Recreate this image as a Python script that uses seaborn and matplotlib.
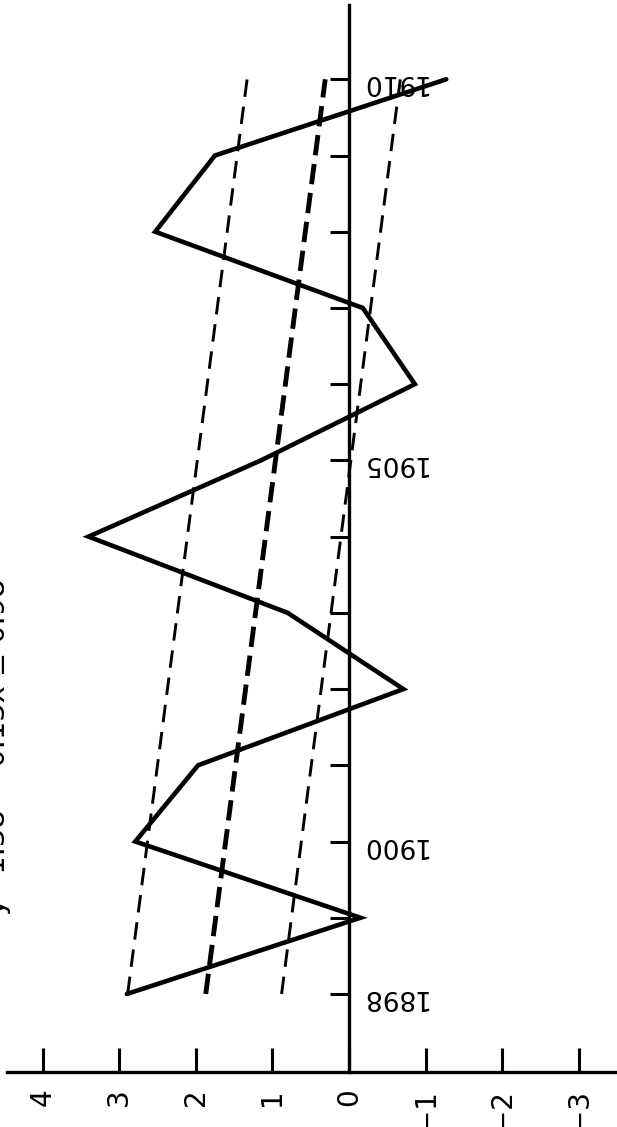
import matplotlib
matplotlib.use("Agg")
import matplotlib.pyplot as plt
import seaborn as sns
import pandas as pd

# ---- data ----
years = [1898, 1899, 1900, 1901, 1902, 1903, 1904, 1905, 1906, 1907, 1908, 1909, 1910]
values = [2.90, -0.15, 2.79, 1.97, -0.71, 0.80, 3.40, 1.15, -0.86, -0.18, 2.53, 1.75, -1.27]

trend_years = [1898, 1910]
upper_band = [2.89, 1.33]
trend_center = [1.87, 0.31]
lower_band = [0.88, -0.67]

value_ticks = [4, 3, 2, 1, 0, -1, -2, -3]
value_tick_labels = ["4", "3", "2", "1", "0", "−1", "−2", "−3"]
year_ticks = list(range(1898, 1911))
labelled_years = {1898: "1898", 1900: "1900", 1905: "1905", 1910: "1910"}
equation = "y=1.38 − 0.13x ± 0.98"

# ---- style ----
sns.set_style("white")
plt.rcParams["font.family"] = ["DejaVu Sans"]

W, H = 617, 1127
fig = plt.figure(figsize=(W / 100, H / 100), dpi=100)
ax = fig.add_axes([0, 0, 1, 1])
ax.set_facecolor("white")

# main series (rotated chart: years run vertically)
main = pd.DataFrame({"year": years, "value": values})
sns.lineplot(data=main, x="value", y="year", orient="y", sort=False,
             estimator=None, color="black", linewidth=3.3, ax=ax,
             solid_joinstyle="miter")

# trend band (dashed)
sns.lineplot(x=upper_band, y=trend_years, orient="y", sort=False, estimator=None,
             color="black", linewidth=2.1, linestyle=(0, (6.0, 3.4)), ax=ax)
sns.lineplot(x=trend_center, y=trend_years, orient="y", sort=False, estimator=None,
             color="black", linewidth=3.5, linestyle=(0, (4.2, 1.8)), ax=ax)
sns.lineplot(x=lower_band, y=trend_years, orient="y", sort=False, estimator=None,
             color="black", linewidth=2.1, linestyle=(0, (6.0, 3.4)), ax=ax)

# limits (value axis inverted: 4 on the left)
x_left, x_right = 4.556, -3.499
y_bottom, y_top = 1896.255, 1911.04
ax.set_xlim(x_left, x_right)
ax.set_ylim(y_bottom, y_top)
value_axis_year = 1896.976

# spines
for s in ["top", "left"]:
    ax.spines[s].set_visible(False)
ax.spines["right"].set_position(("data", 0))
ax.spines["right"].set_bounds(value_axis_year, 1910.98)
ax.spines["right"].set_linewidth(2.4)
ax.spines["right"].set_color("black")
ax.spines["bottom"].set_position(("data", value_axis_year))
ax.spines["bottom"].set_bounds(x_right, 4.465)
ax.spines["bottom"].set_linewidth(2.4)
ax.spines["bottom"].set_color("black")

# year ticks on the vertical axis
ax.yaxis.tick_right()
ax.set_yticks(year_ticks)
ax.set_yticklabels([labelled_years.get(y, "") for y in year_ticks])
ax.tick_params(axis="y", direction="in", length=14, width=2.2, pad=8,
               labelsize=19, labelrotation=180, colors="black")

# value ticks on the horizontal axis
ax.xaxis.tick_bottom()
ax.set_xticks(value_ticks)
ax.set_xticklabels(value_tick_labels)
ax.tick_params(axis="x", direction="in", length=17, width=2.2, pad=12,
               labelsize=20, labelrotation=90, colors="black")

ax.set_xlabel("")
ax.set_ylabel("")
ax.grid(False)

# equation, partly cut by the left edge
fig.text(5 / W, (H - 915) / H, equation, rotation=90, rotation_mode="anchor",
         ha="left", va="baseline", fontsize=20.8, color="black")

fig.savefig("out.png", dpi=100, facecolor="white")
